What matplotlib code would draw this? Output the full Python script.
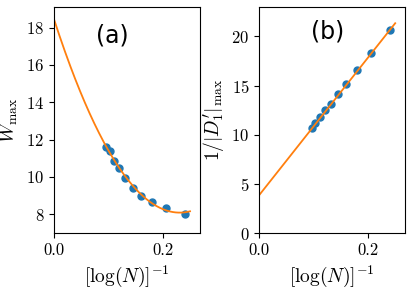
import matplotlib
matplotlib.use('Agg')
import matplotlib.pyplot as plt
import numpy as np

plt.rcParams['font.family'] = 'serif'
plt.rcParams['font.serif'] = ['cmr10']
plt.rcParams['mathtext.fontset'] = 'cm'
plt.rcParams['axes.formatter.use_mathtext'] = True

# x = [log(N)]^-1 for N = 2^15 ... 2^6
inv_logN = [0.0962, 0.1030, 0.1110, 0.1202, 0.1312, 0.1443, 0.1603, 0.1803, 0.2061, 0.2404]
w_max = [11.61, 11.37, 10.88, 10.49, 9.93, 9.39, 8.97, 8.64, 8.32, 8.04]
inv_d1 = [10.68, 11.18, 11.76, 12.49, 13.17, 14.11, 15.15, 16.54, 18.28, 20.71]

# fit coefficients (highest power first)
fit_w = [194.2, -89.7, 18.45]
fit_d = [70.0, 3.85]

fit_x = np.linspace(0, 0.25, 200)

fig = plt.figure(figsize=(4.12, 2.92), dpi=100)
ax1 = fig.add_axes([0.131, 0.202, 0.354, 0.774])
ax2 = fig.add_axes([0.629, 0.202, 0.354, 0.774])

# (a)
ax1.plot(inv_logN, w_max, 'o', color='tab:blue', ms=5)
ax1.plot(fit_x, np.polyval(fit_w, fit_x), '-', color='tab:orange', lw=1.3)
ax1.set_xlim(0, 0.268)
ax1.set_ylim(7.0, 19.1)
ax1.set_yticks([8, 10, 12, 14, 16, 18])
ax1.set_xticks([0.0, 0.2])
ax1.set_xticklabels(['0.0', '0.2'])
ax1.set_xlabel(r'$[\log(N)]^{-1}$', fontsize=14)
ax1.set_ylabel(r'$W_{\rm max}$', fontsize=14)
ax1.tick_params(labelsize=12)
ax1.text(0.40, 0.875, '(a)', transform=ax1.transAxes, fontsize=17,
         family='DejaVu Sans', ha='center', va='center')

# (b)
ax2.plot(inv_logN, inv_d1, 'o', color='tab:blue', ms=5)
ax2.plot(fit_x, np.polyval(fit_d, fit_x), '-', color='tab:orange', lw=1.3)
ax2.set_xlim(0, 0.268)
ax2.set_ylim(0, 23)
ax2.set_yticks([0, 5, 10, 15, 20])
ax2.set_xticks([0.0, 0.2])
ax2.set_xticklabels(['0.0', '0.2'])
ax2.set_xlabel(r'$[\log(N)]^{-1}$', fontsize=14)
ax2.set_ylabel(r"$1/|D_1'|_{\rm max}$", fontsize=14)
ax2.tick_params(labelsize=12)
ax2.text(0.47, 0.89, '(b)', transform=ax2.transAxes, fontsize=17,
         family='DejaVu Sans', ha='center', va='center')

fig.savefig('out.png', dpi=100)
